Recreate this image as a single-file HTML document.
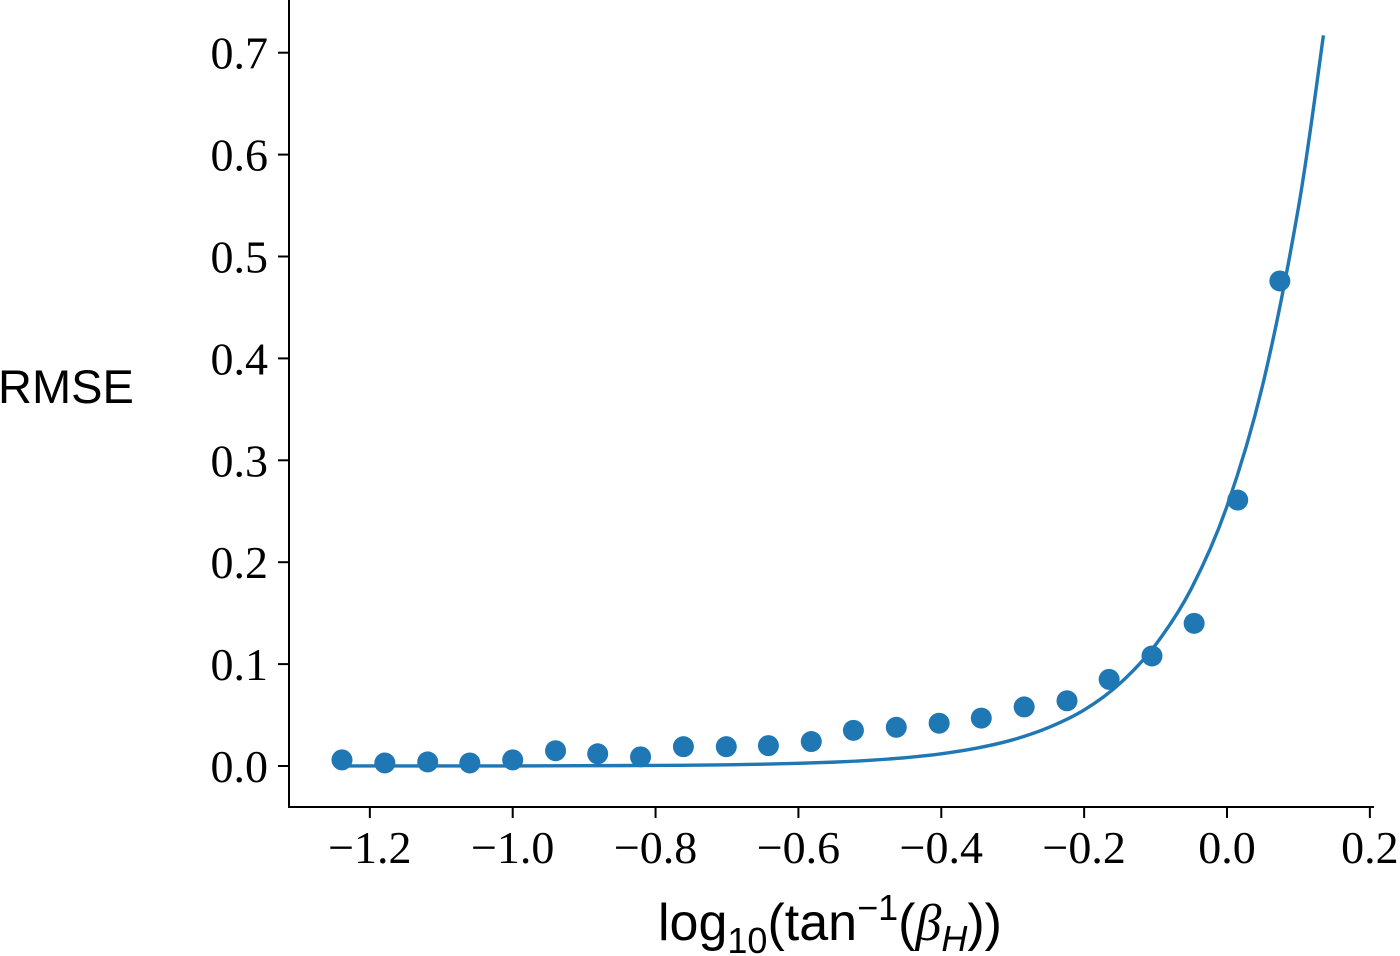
<!DOCTYPE html>
<html><head><meta charset="utf-8"><style>
html,body{margin:0;padding:0;background:#fff;}
svg{display:block;font-family:"Liberation Serif",serif;}
</style></head><body>
<svg id="chart" width="1400" height="956" viewBox="0 0 1400 956">
<g id="axes"></g>
<g id="marks"></g>
<text x="-2" y="403" font-size="47" font-family="Liberation Sans, sans-serif">RMSE</text>
<text x="830" y="940" font-size="52" text-anchor="middle" font-family="Liberation Sans, sans-serif">log<tspan font-size="36" dy="13">10</tspan><tspan dy="-13">(tan</tspan><tspan font-size="36" dy="-20">−1</tspan><tspan dy="20">(</tspan><tspan font-style="italic" font-family="Liberation Serif, serif">β</tspan><tspan font-size="36" dy="11" font-style="italic">H</tspan><tspan dy="-11">))</tspan></text>
</svg>
<script>
const xTicks=[-1.2,-1.0,-0.8,-0.6,-0.4,-0.2,0.0,0.2];
const yTicks=[0.0,0.1,0.2,0.3,0.4,0.5,0.6,0.7];
const pointX=[-1.239,-1.179,-1.119,-1.060,-1.000,-0.940,-0.881,-0.821,-0.761,-0.701,-0.642,-0.582,-0.523,-0.463,-0.403,-0.344,-0.284,-0.224,-0.165,-0.105,-0.046,0.015,0.074];
const pointY=[0.006,0.003,0.004,0.003,0.006,0.015,0.012,0.009,0.019,0.019,0.020,0.024,0.035,0.038,0.042,0.047,0.058,0.064,0.085,0.108,0.140,0.261,0.476];
const curveX=[-1.24,-1.1,-1.0,-0.9,-0.8,-0.75,-0.7,-0.65,-0.6,-0.55,-0.5,-0.45,-0.4,-0.35,-0.3,-0.25,-0.2,-0.15,-0.1,-0.05,0,0.05,0.1,0.135];
const curveY=[0.00002,0.00005,0.0001,0.00026,0.0006,0.0008,0.0012,0.0018,0.0026,0.0038,0.0056,0.0082,0.012,0.0176,0.0257,0.0377,0.055,0.081,0.119,0.174,0.255,0.374,0.548,0.717];
const NS="http://www.w3.org/2000/svg";
const sx=v=>1227+v*714.3;
const sy=v=>766-v*1019;
const axes=document.getElementById('axes'),marks=document.getElementById('marks');
function mk(tag,attrs,parent){const e=document.createElementNS(NS,tag);for(const k in attrs)e.setAttribute(k,attrs[k]);parent.appendChild(e);return e;}
const fmt=v=>(v<0?'−':'')+Math.abs(v).toFixed(1);
let l=mk('line',{x1:289,y1:0,x2:289,y2:808,stroke:'#000','stroke-width':2},axes);


l=mk('line',{x1:288,y1:807,x2:1374,y2:807,stroke:'#000','stroke-width':2},axes);


xTicks.forEach(v=>{
 const t=mk('line',{x1:sx(v),y1:807,x2:sx(v),y2:818,stroke:'#000','stroke-width':2},axes);
 
 
 const tx=mk('text',{x:sx(v),y:863,'font-size':46,'text-anchor':'middle'},axes);
 tx.textContent=fmt(v);
 
 
});
yTicks.forEach(v=>{
 const t=mk('line',{x1:278,y1:sy(v),x2:289,y2:sy(v),stroke:'#000','stroke-width':2},axes);
 
 
 const tx=mk('text',{x:268,y:sy(v)+16,'font-size':46,'text-anchor':'end'},axes);
 tx.textContent=fmt(v);
 
 
});
const pts=curveX.map((x,i)=>[sx(x),sy(curveY[i])]);
let d='M'+pts[0][0]+','+pts[0][1];
for(let i=0;i<pts.length-1;i++){
 const p0=pts[Math.max(0,i-1)],p1=pts[i],p2=pts[i+1],p3=pts[Math.min(pts.length-1,i+2)];
 const c1=[p1[0]+(p2[0]-p0[0])/6,p1[1]+(p2[1]-p0[1])/6];
 const c2=[p2[0]-(p3[0]-p1[0])/6,p2[1]-(p3[1]-p1[1])/6];
 d+=` C${c1[0]},${c1[1]} ${c2[0]},${c2[1]} ${p2[0]},${p2[1]}`;
}
const path=mk('path',{d:d,fill:'none',stroke:'#1f77b4','stroke-width':3.4},marks);


pointX.forEach((x,i)=>{
 const c=mk('circle',{cx:sx(x),cy:sy(pointY[i]),r:10.5,fill:'#1f77b4'},marks);
 
 
});
</script>
</body></html>
